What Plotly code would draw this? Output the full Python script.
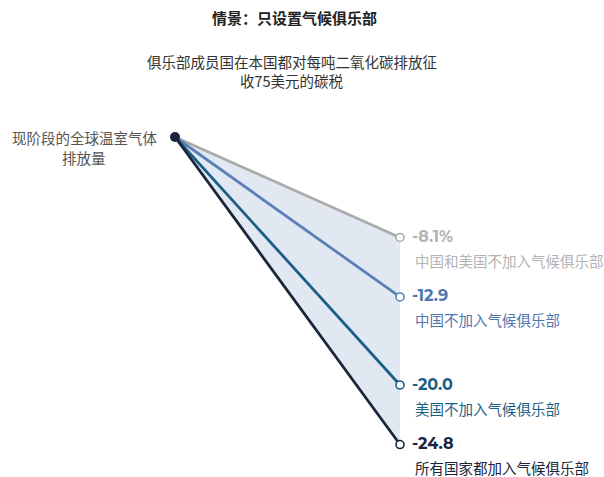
import plotly.graph_objects as go

# Scenario data: change in global greenhouse gas emissions (%)
scenarios = ["中国和美国不加入气候俱乐部", "中国不加入气候俱乐部", "美国不加入气候俱乐部", "所有国家都加入气候俱乐部"]
changes = [-8.1, -12.9, -20.0, -24.8]
value_labels = ["-8.1%", "-12.9", "-20.0", "-24.8"]
colors = ["#ababab", "#5b80b8", "#1c5f86", "#18253a"]
label_colors = ["#b3b3b3", "#4f76ae", "#1c5f86", "#18253a"]

title_text = "情景：只设置气候俱乐部"
subtitle_lines = ["俱乐部成员国在本国都对每吨二氧化碳排放征", "收75美元的碳税"]
start_lines = ["现阶段的全球温室气体", "排放量"]

start_x, end_x = 0, 1
baseline = 0

FONT = "Noto Sans CJK SC"
W, H = 604, 477

fig = go.Figure()

# Shaded band between the smallest and largest reductions
fig.add_trace(go.Scatter(x=[start_x, end_x], y=[baseline, max(changes)], mode="lines",
                         line=dict(width=0, color="rgba(0,0,0,0)"), hoverinfo="skip", showlegend=False))
fig.add_trace(go.Scatter(x=[start_x, end_x], y=[baseline, min(changes)], mode="lines",
                         line=dict(width=0, color="rgba(0,0,0,0)"), fill="tonexty",
                         fillcolor="#e2e8f2", hoverinfo="skip", showlegend=False))

# One line per scenario, ending in an open marker
for val, col in zip(changes, colors):
    fig.add_trace(go.Scatter(x=[start_x, end_x], y=[baseline, val], mode="lines",
                             line=dict(color=col, width=2.8), hoverinfo="skip", showlegend=False))
    fig.add_trace(go.Scatter(x=[end_x], y=[val], mode="markers",
                             marker=dict(size=8, color="white", line=dict(color=col, width=1.6)),
                             hoverinfo="skip", showlegend=False))

# Starting point
fig.add_trace(go.Scatter(x=[start_x], y=[baseline], mode="markers",
                         marker=dict(size=10, color="#18253a"), hoverinfo="skip", showlegend=False))

# Value and scenario labels
for val, vlab, name, lc in zip(changes, value_labels, scenarios, label_colors):
    fig.add_annotation(x=end_x, y=val, xref="x", yref="y", text="<b>" + vlab + "</b>",
                       showarrow=False, xanchor="left", yanchor="middle", xshift=10, yshift=1,
                       font=dict(family="Montserrat, " + FONT, size=16, color=lc))
    fig.add_annotation(x=end_x, y=val, xref="x", yref="y", text=name,
                       showarrow=False, xanchor="left", yanchor="middle", xshift=13, yshift=-23,
                       font=dict(family=FONT, size=14.5, color=lc))


def px_text(text, xpx, ypx, size, color, bold=False):
    """Place a single line of text at a pixel position on the page."""
    fig.add_annotation(x=xpx / W, y=1 - ypx / H, xref="paper", yref="paper",
                       text=("<b>" + text + "</b>") if bold else text,
                       showarrow=False, xanchor="center", yanchor="middle",
                       font=dict(family=FONT, size=size, color=color))


# Title and subtitle
px_text(title_text, 294, 18, 15, "#222222", bold=True)
for i, line in enumerate(subtitle_lines):
    px_text(line, 292, 61 + 20 * i, 14.5, "#333333")

# Start label
for i, line in enumerate(start_lines):
    px_text(line, 84, 138 + 19 * i, 14.5, "#555555")

# Axis ranges: x=0 at 175px, x=1 at 400px; y=0 at 137px, 12.4 px per unit
px_per_x = 225
x0 = -175 / px_per_x
x1 = x0 + W / px_per_x
px_per_y = 12.4
ytop = 137 / px_per_y
ybot = ytop - H / px_per_y

fig.update_layout(
    width=W, height=H,
    margin=dict(l=0, r=0, t=0, b=0),
    paper_bgcolor="white", plot_bgcolor="white",
    xaxis=dict(range=[x0, x1], visible=False, fixedrange=True),
    yaxis=dict(range=[ybot, ytop], visible=False, fixedrange=True),
    font=dict(family=FONT),
)

fig.write_html("out.html")
